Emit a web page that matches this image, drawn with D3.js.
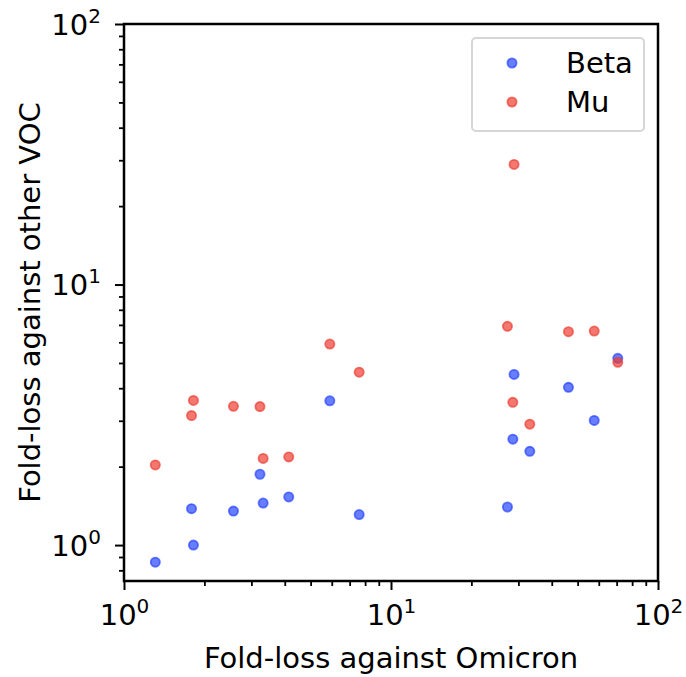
<!DOCTYPE html>
<html>
<head>
<meta charset="utf-8">
<script src="https://cdn.jsdelivr.net/npm/d3@7"></script>
<style>
  body { margin: 0; background: #fff; }
  text { font-family: "DejaVu Sans", sans-serif; fill: #000; }
</style>
</head>
<body>
<div id="wrapper"></div>
<script>
// fold-loss values
const omicronLoss = [1.31, 1.79, 1.82, 2.57, 3.23, 3.32, 4.14, 5.90, 7.6, 27.3, 28.6, 28.9, 33.1, 46.2, 57.7, 70.7];
const betaLoss    = [0.86, 1.38, 1.00, 1.35, 1.87, 1.45, 1.53, 3.58, 1.31, 1.40, 2.55, 4.52, 2.29, 4.03, 3.01, 5.21];
const muLoss      = [2.03, 3.14, 3.59, 3.41, 3.40, 2.15, 2.18, 5.91, 4.61, 6.91, 3.53, 28.9, 2.91, 6.59, 6.63, 5.03];
const seriesNames = ["Beta", "Mu"];
const seriesColors = ["#2846ff", "#ec3f33"];
const xTicks = [1, 10, 100];
const yTicks = [1, 10, 100];

function buildPlot() {
    var dimension = {
        width: 686,
        height: 677,
        margin: { top: 24, left: 124, bottom: 96, right: 28 }
    };
    dimension.boundedWidth = dimension.width - dimension.margin.left - dimension.margin.right;
    dimension.boundedHeight = dimension.height - dimension.margin.top - dimension.margin.bottom;

    const svg = d3.select("#wrapper").append("svg")
        .attr("width", dimension.width)
        .attr("height", dimension.height);
    const bounded = svg.append("g")
        .attr("transform", `translate(${dimension.margin.left},${dimension.margin.top})`);

    const xScaler = d3.scaleLog().domain([1, 100]).range([0, dimension.boundedWidth]);
    const yScaler = d3.scaleLog().domain([0.728, 100]).range([dimension.boundedHeight, 0]);

    // minor ticks
    const xMinor = xScaler.ticks().filter(d => !xTicks.includes(d));
    const yMinor = yScaler.ticks().filter(d => !yTicks.includes(d));

    bounded.append("g")
        .attr("transform", `translate(0,${dimension.boundedHeight})`)
        .call(d3.axisBottom(xScaler).tickValues(xMinor).tickSize(5).tickFormat(""))
        .call(g => g.select(".domain").remove())
        .call(g => g.selectAll("line").attr("stroke-width", 1.8));
    bounded.append("g")
        .call(d3.axisLeft(yScaler).tickValues(yMinor).tickSize(5).tickFormat(""))
        .call(g => g.select(".domain").remove())
        .call(g => g.selectAll("line").attr("stroke-width", 1.8));

    const supFormat = (sel) => {
        sel.selectAll(".tick text").each(function(d) {
            const t = d3.select(this).text("");
            t.append("tspan").text("10");
            t.append("tspan").attr("dy", "-0.6em").attr("font-size", "20px").text(Math.round(Math.log10(d)));
        });
    };

    const xAxis = bounded.append("g")
        .attr("transform", `translate(0,${dimension.boundedHeight})`)
        .call(d3.axisBottom(xScaler).tickValues(xTicks).tickSize(9).tickPadding(14))
        .call(g => g.select(".domain").remove());
    xAxis.selectAll("line").attr("stroke-width", 2);
    xAxis.selectAll("text").attr("font-size", "29px");
    supFormat(xAxis);

    const yAxis = bounded.append("g")
        .call(d3.axisLeft(yScaler).tickValues(yTicks).tickSize(9).tickPadding(14))
        .call(g => g.select(".domain").remove());
    yAxis.selectAll("line").attr("stroke-width", 2);
    yAxis.selectAll("text").attr("font-size", "29px").attr("dy", "0.36em");
    supFormat(yAxis);

    // frame
    bounded.append("rect")
        .attr("width", dimension.boundedWidth)
        .attr("height", dimension.boundedHeight)
        .attr("fill", "none")
        .attr("stroke", "#000")
        .attr("stroke-width", 2.5);

    const series = [betaLoss, muLoss];
    series.forEach((vals, i) => {
        bounded.append("g")
            .selectAll("circle")
            .data(vals)
            .join("circle")
            .attr("cx", (d, j) => xScaler(omicronLoss[j]))
            .attr("cy", d => yScaler(d))
            .attr("r", 4.6)
            .attr("fill", seriesColors[i])
            .attr("fill-opacity", 0.7)
            .attr("stroke", seriesColors[i])
            .attr("stroke-opacity", 0.7)
            .attr("stroke-width", 1.8);
    });

    // legend
    const legend = bounded.append("g")
        .attr("transform", `translate(${348},${14})`);
    legend.append("rect")
        .attr("width", 172)
        .attr("height", 93)
        .attr("rx", 4)
        .attr("fill", "#fff")
        .attr("fill-opacity", 0.8)
        .attr("stroke", "#d6d6d6")
        .attr("stroke-width", 2);
    seriesNames.forEach((name, i) => {
        const row = legend.append("g").attr("transform", `translate(0,${25 + i * 39})`);
        row.append("circle")
            .attr("cx", 40).attr("cy", 0).attr("r", 4.6)
            .attr("fill", seriesColors[i]).attr("fill-opacity", 0.7)
            .attr("stroke", seriesColors[i]).attr("stroke-opacity", 0.7)
            .attr("stroke-width", 1.8);
        row.append("text")
            .attr("x", 94).attr("y", 0).attr("dy", "0.36em")
            .attr("font-size", "29px")
            .text(name);
    });

    // axis labels
    svg.append("text")
        .attr("x", dimension.margin.left + dimension.boundedWidth / 2)
        .attr("y", 668)
        .attr("text-anchor", "middle")
        .attr("font-size", "29px")
        .text("Fold-loss against Omicron");
    svg.append("text")
        .attr("transform", `translate(40,${dimension.margin.top + dimension.boundedHeight / 2}) rotate(-90)`)
        .attr("text-anchor", "middle")
        .attr("font-size", "29px")
        .text("Fold-loss against other VOC");
}

buildPlot();
</script>
</body>
</html>
